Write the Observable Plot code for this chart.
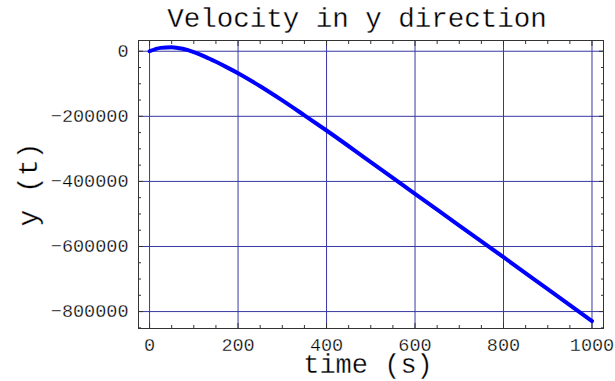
<!DOCTYPE html>
<html>
<head>
<meta charset="utf-8">
<script src="https://cdn.jsdelivr.net/npm/d3@7"></script>
<script src="https://cdn.jsdelivr.net/npm/@observablehq/plot@0.6"></script>
<style>
  html, body { margin: 0; padding: 0; background: white; }
  #chart svg text { paint-order: normal !important; stroke: white; stroke-width: 0.3px; }
</style>
</head>
<body>
<div id="chart"></div>
<script>
const titleText = "Velocity in y direction";
const xLabel = "time (s)";
const yLabel = "y (t)";

const timeS = [0, 25, 50, 75, 100, 125, 150, 175, 200, 250, 300, 350, 400, 500, 600, 700, 800, 900, 1000];
const yT = [0, 10300, 12500, 7500, -2500, -16500, -32500, -49500, -67500, -107500, -151000, -197000, -243500, -340500, -438000, -535500, -633000, -731000, -829000];

const xMajor = [0, 200, 400, 600, 800, 1000];
const xMinor = [50, 100, 150, 250, 300, 350, 450, 500, 550, 650, 700, 750, 850, 900, 950];
const yMajor = [0, -200000, -400000, -600000, -800000];
const yMinor = [-50000, -100000, -150000, -250000, -300000, -350000, -450000, -500000, -550000, -650000, -700000, -750000, -850000];

const data = timeS.map((t, i) => ({t, y: yT[i]}));
const fmt = d => (d < 0 ? "\u2212" : "") + String(Math.abs(d));

const font = "Liberation Mono, Courier New, monospace";
const gridColor = "#3838a4";
const frameColor = "#333";

const chart = Plot.plot({
  width: 615,
  height: 381,
  marginLeft: 138,
  marginRight: 12,
  marginTop: 40,
  marginBottom: 53,
  style: {fontFamily: font, fontSize: "18.5px", background: "white", color: "black"},
  x: {domain: [-25, 1026], label: null},
  y: {domain: [-852000, 33000], label: null},
  marks: [
    Plot.gridX(xMajor, {stroke: gridColor, strokeOpacity: 1, strokeWidth: 1}),
    Plot.gridY(yMajor, {stroke: gridColor, strokeOpacity: 1, strokeWidth: 1}),
    Plot.line(data, {x: "t", y: "y", stroke: "#0000ff", strokeWidth: 4, curve: "monotone-x"}),
    // inward ticks
    Plot.axisX(xMajor, {anchor: "bottom", tickSize: 5, dy: -5, fill: "none", stroke: frameColor, label: null}),
    Plot.axisX(xMinor, {anchor: "bottom", tickSize: 3, dy: -3, fill: "none", stroke: frameColor, label: null}),
    Plot.axisX(xMajor, {anchor: "top", tickSize: 5, dy: 5, fill: "none", stroke: frameColor, label: null}),
    Plot.axisX(xMinor, {anchor: "top", tickSize: 3, dy: 3, fill: "none", stroke: frameColor, label: null}),
    Plot.axisY(yMajor, {anchor: "left", tickSize: 5, dx: 5, fill: "none", stroke: frameColor, label: null}),
    Plot.axisY(yMinor, {anchor: "left", tickSize: 3, dx: 3, fill: "none", stroke: frameColor, label: null}),
    Plot.axisY(yMajor, {anchor: "right", tickSize: 5, dx: -5, fill: "none", stroke: frameColor, label: null}),
    Plot.axisY(yMinor, {anchor: "right", tickSize: 3, dx: -3, fill: "none", stroke: frameColor, label: null}),
    // tick labels
    Plot.axisX(xMajor, {anchor: "bottom", tickSize: 0, tickPadding: 9, fill: "black", label: null, tickFormat: fmt}),
    Plot.axisY(yMajor, {anchor: "left", tickSize: 0, tickPadding: 10, fill: "black", label: null, tickFormat: fmt}),
    Plot.frame({stroke: frameColor, strokeWidth: 1}),
    // title and axis labels
    Plot.text([titleText], {frameAnchor: "top", dy: -22, dx: -14, fontSize: 27.5, fill: "black", lineAnchor: "middle"}),
    Plot.text([xLabel], {frameAnchor: "bottom", dy: 36, dx: -3, fontSize: 27, fill: "black", lineAnchor: "middle"}),
    Plot.text([yLabel], {frameAnchor: "left", dx: -110, fontSize: 28, fill: "black", rotate: -90, textAnchor: "middle", lineAnchor: "middle"})
  ]
});
document.getElementById("chart").appendChild(chart);
</script>
</body>
</html>
